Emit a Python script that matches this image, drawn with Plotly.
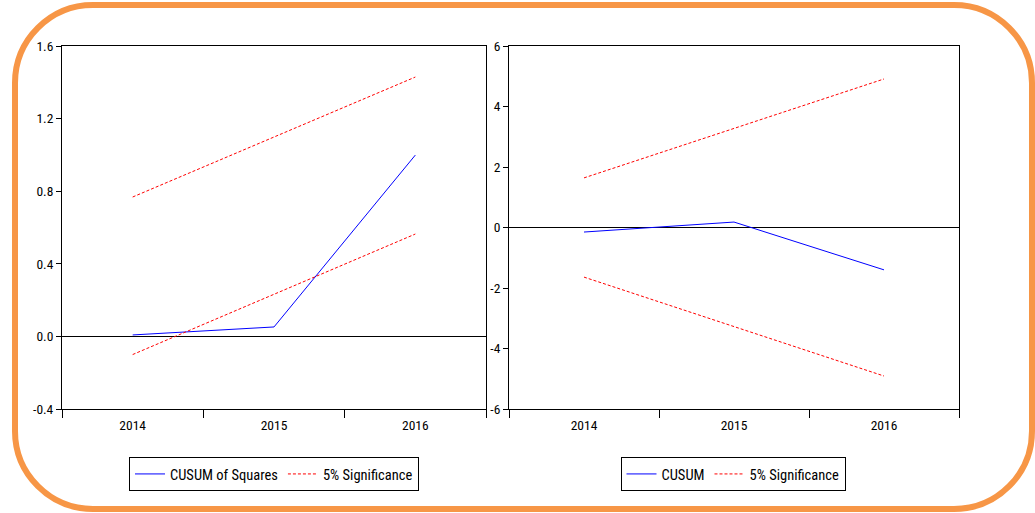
import plotly.graph_objects as go

years = ["2014", "2015", "2016"]
cusumsq = [0.008, 0.052, 0.999]
cusumsq_upper = [0.768, 1.10, 1.429]
cusumsq_lower = [-0.10, 0.232, 0.564]
cusum = [-0.15, 0.18, -1.40]
cusum_upper = [1.64, 3.27, 4.91]
cusum_lower = [-1.64, -3.27, -4.91]
left_tickvals = [-0.4, 0.0, 0.4, 0.8, 1.2, 1.6]
left_ticktext = ["-0.4", "0.0", "0.4", "0.8", "1.2", "1.6"]
right_tickvals = [-6, -4, -2, 0, 2, 4, 6]
right_ticktext = ["-6", "-4", "-2", "0", "2", "4", "6"]

W, H = 1035, 513
FONT = "Roboto Condensed, Liberation Sans Narrow, Arial Narrow, sans-serif"

def px(x):
    return x / W

def py(y):
    return 1 - y / H

fig = go.Figure()
blue = "#0000FF"
red = "#FF0000"
DASH = "3px,2px"

fig.add_trace(go.Scatter(x=years, y=cusumsq, mode="lines", name="CUSUM of Squares",
                         line=dict(color=blue, width=1), xaxis="x", yaxis="y", legend="legend"))
fig.add_trace(go.Scatter(x=years, y=cusumsq_upper, mode="lines", name="5% Significance",
                         line=dict(color=red, width=1, dash=DASH), xaxis="x", yaxis="y", legend="legend"))
fig.add_trace(go.Scatter(x=years, y=cusumsq_lower, mode="lines", name="5% Significance", showlegend=False,
                         line=dict(color=red, width=1, dash=DASH), xaxis="x", yaxis="y", legend="legend"))

fig.add_trace(go.Scatter(x=years, y=cusum, mode="lines", name="CUSUM",
                         line=dict(color=blue, width=1), xaxis="x2", yaxis="y2", legend="legend2"))
fig.add_trace(go.Scatter(x=years, y=cusum_upper, mode="lines", name="5% Significance",
                         line=dict(color=red, width=1, dash=DASH), xaxis="x2", yaxis="y2", legend="legend2"))
fig.add_trace(go.Scatter(x=years, y=cusum_lower, mode="lines", name="5% Significance", showlegend=False,
                         line=dict(color=red, width=1, dash=DASH), xaxis="x2", yaxis="y2", legend="legend2"))

xcommon = dict(type="category", showline=True, mirror=True, linecolor="black", linewidth=1,
               ticks="outside", tickson="boundaries", ticklen=8, tickcolor="black",
               ticklabelstandoff=4,
               showgrid=False, zeroline=False, range=[-0.5, 2.5], automargin=False,
               tickfont=dict(family=FONT, size=13.5, color="black"))
ycommon = dict(showline=True, mirror=True, linecolor="black", linewidth=1,
               ticks="outside", ticklen=5, tickcolor="black", showgrid=False,
               zeroline=True, zerolinecolor="black", zerolinewidth=1, automargin=False,
               tickfont=dict(family=FONT, size=13.5, color="black"))

fig.update_layout(
    width=W, height=H,
    margin=dict(l=0, r=0, t=0, b=0, autoexpand=False),
    paper_bgcolor="white", plot_bgcolor="white",
    font=dict(family=FONT, size=14, color="black"),
    xaxis=dict(domain=[px(62), px(486)], anchor="y", **xcommon),
    yaxis=dict(domain=[py(409), py(46)], anchor="x", range=[-0.4, 1.6],
               tickvals=left_tickvals, ticktext=left_ticktext, **ycommon),
    xaxis2=dict(domain=[px(509), px(959)], anchor="y2", **xcommon),
    yaxis2=dict(domain=[py(409), py(46)], anchor="x2", range=[-6, 6],
                tickvals=right_tickvals, ticktext=right_ticktext, **ycommon),
    legend=dict(orientation="h", x=px(274), y=py(474), xanchor="center", yanchor="middle",
                bordercolor="black", borderwidth=1, bgcolor="white",
                font=dict(family=FONT, size=14.5, color="black"), itemwidth=30),
    legend2=dict(orientation="h", x=px(733), y=py(474), xanchor="center", yanchor="middle",
                 bordercolor="black", borderwidth=1, bgcolor="white",
                 font=dict(family=FONT, size=14.5, color="black"), itemwidth=30),
    showlegend=True,
)

# Orange rounded frame
L, T, R, B, r = 15, 5, 1032, 509, 78
k = 0.5523

def P(x, y):
    return f"{px(x):.5f},{py(y):.5f}"

path = (
    f"M {P(L, T + r)} "
    f"C {P(L, T + r * (1 - k))} {P(L + r * (1 - k), T)} {P(L + r, T)} "
    f"L {P(R - r, T)} "
    f"C {P(R - r * (1 - k), T)} {P(R, T + r * (1 - k))} {P(R, T + r)} "
    f"L {P(R, B - r)} "
    f"C {P(R, B - r * (1 - k))} {P(R - r * (1 - k), B)} {P(R - r, B)} "
    f"L {P(L + r, B)} "
    f"C {P(L + r * (1 - k), B)} {P(L, B - r * (1 - k))} {P(L, B - r)} Z"
)
fig.add_shape(type="path", path=path, xref="paper", yref="paper",
              line=dict(color="#F79646", width=6), fillcolor="rgba(0,0,0,0)", layer="below")

fig.write_html(
    "out.html",
    config={"displayModeBar": False},
    post_script="document.body.style.margin='0';document.documentElement.style.overflow='hidden';",
)
